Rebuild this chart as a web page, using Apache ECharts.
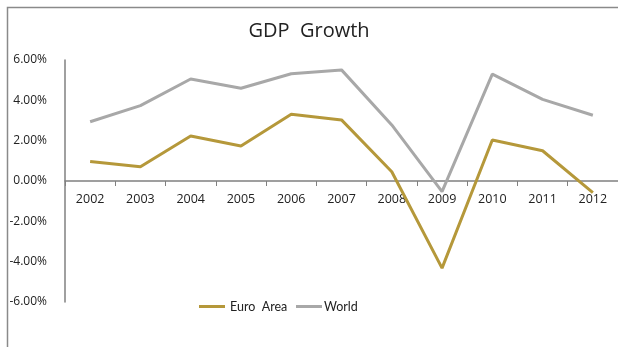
<!DOCTYPE html>
<html>
<head>
<meta charset="utf-8">
<script src="https://cdn.jsdelivr.net/npm/echarts@6/dist/echarts.min.js"></script>
<style>
  html, body { margin: 0; padding: 0; background: #fff; }
  #chart { width: 618px; height: 347px; }
</style>
</head>
<body>
<div id="chart"></div>
<script>
// Annual GDP growth, percent
const years = ['2002', '2003', '2004', '2005', '2006', '2007', '2008', '2009', '2010', '2011', '2012'];
const euroArea = [0.97, 0.71, 2.23, 1.74, 3.31, 3.03, 0.46, -4.32, 2.03, 1.50, -0.58];
const world = [2.94, 3.74, 5.06, 4.60, 5.32, 5.51, 2.78, -0.53, 5.30, 4.05, 3.26];
const yTicks = { min: -6, max: 6, step: 2 };

const font = '"Open Sans", "Noto Sans", sans-serif';
const legendFont = 'Lato, "Open Sans", sans-serif';
const gridTop = 60, gridBottom = 45, chartHeight = 347;
// distance from the plot bottom up to the zero line, so the category axis sits on 0%
const plotH = chartHeight - gridTop - gridBottom;
const zeroOffset = -plotH * (0 - yTicks.min) / (yTicks.max - yTicks.min);

const legendBase = {
  top: 300,
  padding: 0,
  itemWidth: 26,
  itemHeight: 3,
  icon: 'rect'
};

const chart = echarts.init(document.getElementById('chart'));

chart.setOption({
  animation: false,
  backgroundColor: '#fff',
  title: {
    text: 'GDP  Growth',
    left: 'center',
    top: 16,
    textStyle: { fontFamily: font, fontSize: 20, fontWeight: 'normal', color: '#222' }
  },
  graphic: [{
    type: 'polyline',
    shape: { points: [[7.5, 400], [7.5, 7.5], [640, 7.5]] },
    style: { stroke: '#8a8a8a', lineWidth: 1.5, fill: null },
    silent: true
  }],
  legend: [
    Object.assign({}, legendBase, {
      left: 199,
      data: ['Euro  Area'],
      textStyle: { fontFamily: legendFont, fontSize: 12.5, color: '#222' }
    }),
    Object.assign({}, legendBase, {
      left: 296,
      data: ['World'],
      textStyle: { fontFamily: legendFont, fontSize: 12.5, color: '#222', padding: [0, 0, 0, -3] }
    })
  ],
  grid: { left: 65, right: -4, top: gridTop, bottom: gridBottom, containLabel: false },
  xAxis: {
    type: 'category',
    data: years,
    boundaryGap: true,
    offset: zeroOffset,
    axisLine: { onZero: false, lineStyle: { color: '#808080', width: 1.5 } },
    axisTick: { show: true, length: 5, lineStyle: { color: '#808080' } },
    axisLabel: { fontFamily: font, fontSize: 12.5, color: '#222', margin: 12 },
    splitLine: { show: false }
  },
  yAxis: {
    type: 'value',
    min: yTicks.min,
    max: yTicks.max,
    interval: yTicks.step,
    axisLine: { show: true, lineStyle: { color: '#808080', width: 1.5 } },
    axisTick: { show: false },
    splitLine: { show: false },
    axisLabel: {
      fontFamily: font, fontSize: 12, color: '#222', margin: 18,
      formatter: v => v.toFixed(2) + '%'
    }
  },
  series: [
    {
      name: 'Euro  Area',
      type: 'line',
      data: euroArea,
      symbol: 'none',
      lineStyle: { color: '#b5983a', width: 3 },
      itemStyle: { color: '#b5983a' }
    },
    {
      name: 'World',
      type: 'line',
      data: world,
      symbol: 'none',
      lineStyle: { color: '#a8a8a8', width: 3 },
      itemStyle: { color: '#a8a8a8' }
    }
  ]
});
</script>
</body>
</html>
